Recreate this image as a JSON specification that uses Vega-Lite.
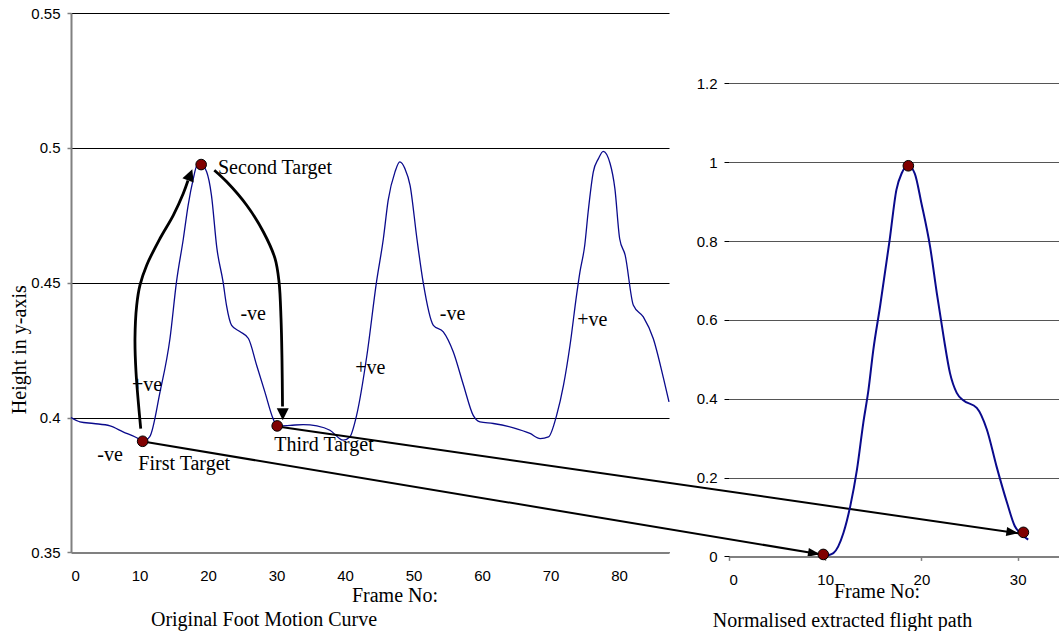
{
  "$schema": "https://vega.github.io/schema/vega-lite/v6.json",
  "background": "white",
  "padding": {"left": 9, "top": 6, "right": 0, "bottom": 0},
  "spacing": 60,
  "bounds": "flush",
  "config": {
    "view": {"stroke": null},
    "axis": {
      "labelFont": "Liberation Sans",
      "labelFontSize": 15,
      "labelColor": "black",
      "titleFont": "Liberation Serif",
      "titleFontSize": 20,
      "titleFontWeight": "normal",
      "titleColor": "black"
    },
    "title": {"font": "Liberation Serif", "fontSize": 20, "fontWeight": "normal", "color": "black"},
    "text": {"font": "Liberation Serif", "fontSize": 20, "color": "black"}
  },
  "datasets": {
    "foot": [
      {"frame": 0, "h": 0.4},
      {"frame": 1.3, "h": 0.3984},
      {"frame": 3.3, "h": 0.3978},
      {"frame": 5.7, "h": 0.3969},
      {"frame": 7.6, "h": 0.3947},
      {"frame": 9.6, "h": 0.3925},
      {"frame": 10.46, "h": 0.3912},
      {"frame": 11.5, "h": 0.3929},
      {"frame": 13.0, "h": 0.4095},
      {"frame": 14.45, "h": 0.4293},
      {"frame": 15.4, "h": 0.4503},
      {"frame": 16.4, "h": 0.4663},
      {"frame": 17.1, "h": 0.4787},
      {"frame": 17.85, "h": 0.4885},
      {"frame": 18.35, "h": 0.4932},
      {"frame": 19.0, "h": 0.4938},
      {"frame": 19.8, "h": 0.4911},
      {"frame": 20.5, "h": 0.4825},
      {"frame": 21.3, "h": 0.4627},
      {"frame": 22.2, "h": 0.4503},
      {"frame": 22.7, "h": 0.4416},
      {"frame": 23.45, "h": 0.4342},
      {"frame": 24.7, "h": 0.4318},
      {"frame": 25.9, "h": 0.4293},
      {"frame": 27.1, "h": 0.4194},
      {"frame": 28.3, "h": 0.4095},
      {"frame": 29.5, "h": 0.3996},
      {"frame": 30.1, "h": 0.3969},
      {"frame": 32.0, "h": 0.3971},
      {"frame": 33.9, "h": 0.3974},
      {"frame": 35.9, "h": 0.3969},
      {"frame": 37.8, "h": 0.3953},
      {"frame": 39.75, "h": 0.3916},
      {"frame": 40.7, "h": 0.3928},
      {"frame": 41.7, "h": 0.4009},
      {"frame": 43.2, "h": 0.4231},
      {"frame": 44.6, "h": 0.4503},
      {"frame": 45.6, "h": 0.4663},
      {"frame": 46.3, "h": 0.4805},
      {"frame": 47.3, "h": 0.4911},
      {"frame": 48.0, "h": 0.4948},
      {"frame": 48.75, "h": 0.4923},
      {"frame": 49.5, "h": 0.4861},
      {"frame": 50.5, "h": 0.4663},
      {"frame": 51.4, "h": 0.4503},
      {"frame": 52.9, "h": 0.4342},
      {"frame": 54.35, "h": 0.4318},
      {"frame": 55.8, "h": 0.4244},
      {"frame": 57.3, "h": 0.412},
      {"frame": 58.7, "h": 0.4009},
      {"frame": 59.7, "h": 0.3984},
      {"frame": 61.65, "h": 0.3978},
      {"frame": 64.6, "h": 0.3962},
      {"frame": 67.0, "h": 0.3941},
      {"frame": 68.5, "h": 0.3922},
      {"frame": 69.7, "h": 0.3928},
      {"frame": 70.9, "h": 0.4009},
      {"frame": 71.9, "h": 0.412},
      {"frame": 72.85, "h": 0.4268},
      {"frame": 73.8, "h": 0.4453},
      {"frame": 74.3, "h": 0.454},
      {"frame": 75.0, "h": 0.4639},
      {"frame": 75.5, "h": 0.4763},
      {"frame": 76.25, "h": 0.4911},
      {"frame": 77.0, "h": 0.496},
      {"frame": 77.7, "h": 0.4987},
      {"frame": 78.7, "h": 0.4942},
      {"frame": 79.4, "h": 0.4849},
      {"frame": 80.1, "h": 0.4663},
      {"frame": 80.9, "h": 0.4602},
      {"frame": 82.1, "h": 0.4416},
      {"frame": 83.55, "h": 0.4373},
      {"frame": 85.0, "h": 0.4293},
      {"frame": 86.5, "h": 0.4145},
      {"frame": 87.3, "h": 0.4058}
    ],
    "targets": [
      {"name": "First Target", "frame": 10.46, "h": 0.3912},
      {"name": "Second Target", "frame": 19.0, "h": 0.4938},
      {"name": "Third Target", "frame": 30.1, "h": 0.3969}
    ],
    "labels": [
      {"text": "Second Target", "frame": 21.46, "h": 0.4927, "align": "left"},
      {"text": "First Target", "frame": 9.83, "h": 0.3829, "align": "left"},
      {"text": "Third Target", "frame": 29.68, "h": 0.39, "align": "left"},
      {"text": "-ve", "frame": 5.7, "h": 0.386, "align": "center"},
      {"text": "+ve", "frame": 11.1, "h": 0.4122, "align": "center"},
      {"text": "-ve", "frame": 26.6, "h": 0.4383, "align": "center"},
      {"text": "+ve", "frame": 43.7, "h": 0.4184, "align": "center"},
      {"text": "-ve", "frame": 55.7, "h": 0.4383, "align": "center"},
      {"text": "+ve", "frame": 76.1, "h": 0.4361, "align": "center"}
    ],
    "curved": [
      {"arrow": "up", "i": 0, "frame": 10.18, "h": 0.3959},
      {"arrow": "up", "i": 1, "frame": 9.49, "h": 0.4169},
      {"arrow": "up", "i": 2, "frame": 9.34, "h": 0.4293},
      {"arrow": "up", "i": 3, "frame": 9.59, "h": 0.4416},
      {"arrow": "up", "i": 4, "frame": 10.07, "h": 0.4491},
      {"arrow": "up", "i": 5, "frame": 11.05, "h": 0.4565},
      {"arrow": "up", "i": 6, "frame": 12.99, "h": 0.4664},
      {"arrow": "up", "i": 7, "frame": 14.93, "h": 0.475},
      {"arrow": "up", "i": 8, "frame": 16.39, "h": 0.4831},
      {"arrow": "up", "i": 9, "frame": 17.08, "h": 0.4879},
      {"arrow": "down", "i": 0, "frame": 20.92, "h": 0.4917},
      {"arrow": "down", "i": 1, "frame": 22.73, "h": 0.4874},
      {"arrow": "down", "i": 2, "frame": 25.65, "h": 0.4787},
      {"arrow": "down", "i": 3, "frame": 28.07, "h": 0.4689},
      {"arrow": "down", "i": 4, "frame": 29.78, "h": 0.459},
      {"arrow": "down", "i": 5, "frame": 30.37, "h": 0.4503},
      {"arrow": "down", "i": 6, "frame": 30.66, "h": 0.4367},
      {"arrow": "down", "i": 7, "frame": 30.8, "h": 0.4219},
      {"arrow": "down", "i": 8, "frame": 30.88, "h": 0.4041}
    ],
    "curvedHeads": [
      {"arrow": "up", "frame": 17.71, "h": 0.4921, "angle": -69},
      {"arrow": "down", "frame": 30.91, "h": 0.399, "angle": 90}
    ],
    "straight": [
      {"arrow": "first", "i": 0, "frame": 10.51, "h": 0.3911},
      {"arrow": "first", "i": 1, "frame": 109.34, "h": 0.3493},
      {"arrow": "third", "i": 0, "frame": 30.15, "h": 0.3967},
      {"arrow": "third", "i": 1, "frame": 138.3, "h": 0.3571}
    ],
    "straightHeads": [
      {"arrow": "first", "frame": 109.34, "h": 0.3493, "angle": 9.45},
      {"arrow": "third", "frame": 138.3, "h": 0.3571, "angle": 8.22}
    ],
    "flight": [
      {"frame": 9.8, "n": 0.0},
      {"frame": 10.85, "n": 0.0085},
      {"frame": 11.9, "n": 0.06},
      {"frame": 12.6, "n": 0.127},
      {"frame": 13.3, "n": 0.22},
      {"frame": 13.96, "n": 0.339},
      {"frame": 14.5, "n": 0.423},
      {"frame": 15.0, "n": 0.524},
      {"frame": 15.7, "n": 0.634},
      {"frame": 16.7, "n": 0.803},
      {"frame": 17.4, "n": 0.93},
      {"frame": 17.95, "n": 0.972},
      {"frame": 18.64, "n": 0.991},
      {"frame": 19.3, "n": 0.972},
      {"frame": 20.0, "n": 0.896},
      {"frame": 20.9, "n": 0.786},
      {"frame": 21.6, "n": 0.668},
      {"frame": 22.3, "n": 0.558},
      {"frame": 22.97, "n": 0.465},
      {"frame": 23.67, "n": 0.415},
      {"frame": 24.35, "n": 0.396},
      {"frame": 25.75, "n": 0.377},
      {"frame": 26.8, "n": 0.322},
      {"frame": 27.8, "n": 0.229},
      {"frame": 28.9, "n": 0.136},
      {"frame": 29.7, "n": 0.077},
      {"frame": 30.3, "n": 0.058},
      {"frame": 31.1, "n": 0.0425}
    ],
    "flightTargets": [
      {"frame": 9.8, "n": 0.005},
      {"frame": 18.64, "n": 0.991},
      {"frame": 30.6, "n": 0.061}
    ]
  },
  "hconcat": [
    {
      "width": 598,
      "height": 539.4,
      "title": {"text": "Original Foot Motion Curve", "orient": "bottom", "frame": "group", "anchor": "middle", "dx": -106, "offset": 21, "baseline": "alphabetic"},
      "encoding": {
        "x": {
          "field": "frame", "type": "quantitative",
          "scale": {"domain": [0, 87.3], "nice": false, "zero": false},
          "axis": {
            "title": "Frame No:", "titleX": 323.5, "titleY": 49, "titleBaseline": "alphabetic", "titleAlign": "center",
            "values": [0, 10, 20, 30, 40, 50, 60, 70, 80],
            "grid": false, "ticks": false, "labelPadding": 16, "labelBaseline": "top",
            "domainColor": "#808080", "domainWidth": 2
          }
        },
        "y": {
          "field": "h", "type": "quantitative",
          "scale": {"domain": [0.35, 0.55], "nice": false, "zero": false},
          "axis": {
            "title": "Height in y-axis", "titleAngle": 270, "titleX": -46, "titleY": 336.2, "titleBaseline": "alphabetic", "titleAlign": "center",
            "values": [0.35, 0.4, 0.45, 0.5, 0.55], "format": "~g",
            "grid": true, "gridColor": "black", "gridWidth": 1,
            "tickSize": 4, "tickColor": "#808080", "tickWidth": 1.5, "labelPadding": 7,
            "domainColor": "#808080", "domainWidth": 2
          }
        }
      },
      "layer": [
        {
          "mark": {"type": "rule", "color": "black", "strokeWidth": 1},
          "encoding": {"x": {"datum": 87.3}, "x2": {"datum": 99.1}, "y": {"datum": 0.55}}
        },
        {
          "data": {"name": "foot"},
          "mark": {"type": "line", "color": "#0a0a8c", "strokeWidth": 1.3, "interpolate": "monotone"}
        },
        {
          "data": {"name": "curved"},
          "mark": {"type": "line", "color": "black", "strokeWidth": 2.8, "interpolate": "catmull-rom"},
          "encoding": {"detail": {"field": "arrow"}, "order": {"field": "i"}}
        },
        {
          "data": {"name": "curvedHeads"},
          "mark": {"type": "point", "shape": "M0,0L-2,-1L-2,1Z", "filled": true, "color": "black", "opacity": 1, "size": 144},
          "encoding": {"angle": {"field": "angle", "type": "quantitative", "scale": null}}
        },
        {
          "data": {"name": "straight"},
          "mark": {"type": "line", "color": "black", "strokeWidth": 2},
          "encoding": {"detail": {"field": "arrow"}, "order": {"field": "i"}}
        },
        {
          "data": {"name": "straightHeads"},
          "mark": {"type": "point", "shape": "M0,0L-2,-0.75L-2,0.75Z", "filled": true, "color": "black", "opacity": 1, "size": 144},
          "encoding": {"angle": {"field": "angle", "type": "quantitative", "scale": null}}
        },
        {
          "data": {"name": "targets"},
          "mark": {"type": "point", "shape": "circle", "filled": true, "fill": "#800000", "stroke": "black", "strokeWidth": 1, "opacity": 1, "size": 113}
        },
        {
          "data": {"name": "labels"},
          "transform": [{"filter": "datum.align == 'left'"}],
          "mark": {"type": "text", "align": "left", "baseline": "middle"},
          "encoding": {"text": {"field": "text"}}
        },
        {
          "data": {"name": "labels"},
          "transform": [{"filter": "datum.align == 'center'"}],
          "mark": {"type": "text", "align": "center", "baseline": "middle"},
          "encoding": {"text": {"field": "text"}}
        }
      ]
    },
    {
      "width": 330,
      "height": 543.4,
      "title": {"text": "Normalised extracted flight path", "orient": "bottom", "frame": "group", "anchor": "middle", "dx": -51.5, "offset": 25.7, "baseline": "alphabetic"},
      "encoding": {
        "x": {
          "field": "frame", "type": "quantitative",
          "scale": {"domain": [0, 34.3], "nice": false, "zero": false},
          "axis": {
            "title": "Frame No:", "titleX": 147.5, "titleY": 40.6, "titleBaseline": "alphabetic", "titleAlign": "center",
            "values": [0, 10, 20, 30], "grid": false,
            "tickSize": 4, "tickColor": "#808080", "tickWidth": 1.5, "labelPadding": 12.5, "labelBaseline": "top",
            "domainColor": "#808080", "domainWidth": 2
          }
        },
        "y": {
          "field": "n", "type": "quantitative",
          "scale": {"domain": [0, 1.3786], "nice": false, "zero": false},
          "axis": {
            "title": null,
            "values": [0, 0.2, 0.4, 0.6, 0.8, 1, 1.2], "format": "~g",
            "grid": true, "gridColor": "#555555", "gridWidth": 1.2,
            "domain": false, "tickSize": 5, "tickColor": "black", "labelPadding": 7
          }
        }
      },
      "layer": [
        {
          "mark": {"type": "rule", "color": "black", "strokeWidth": 1},
          "encoding": {"x": {"datum": 0}, "y": {"datum": 0}, "y2": {"datum": 1.2}}
        },
        {
          "data": {"name": "flight"},
          "mark": {"type": "line", "color": "#0a0a8c", "strokeWidth": 2, "interpolate": "monotone"}
        },
        {
          "data": {"name": "flightTargets"},
          "mark": {"type": "point", "shape": "circle", "filled": true, "fill": "#800000", "stroke": "black", "strokeWidth": 1, "opacity": 1, "size": 113}
        }
      ]
    }
  ]
}
